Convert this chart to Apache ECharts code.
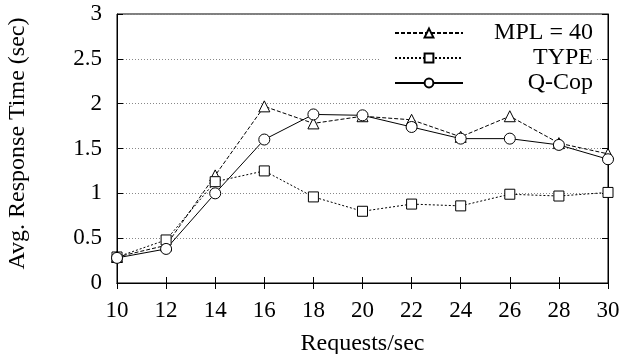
<!DOCTYPE html>
<html>
<head>
<meta charset="utf-8">
<script src="https://cdn.jsdelivr.net/npm/echarts@6/dist/echarts.min.js"></script>
<style>html,body{margin:0;padding:0;background:#fff}#c{width:625px;height:354px}</style>
</head>
<body>
<div id="c"></div>
<script>
var xValues = [10, 12, 14, 16, 18, 20, 22, 24, 26, 28, 30];
var mplValues = [0.29, 0.42, 1.20, 1.97, 1.78, 1.86, 1.82, 1.63, 1.86, 1.56, 1.44];
var typeValues = [0.29, 0.48, 1.13, 1.25, 0.96, 0.80, 0.88, 0.86, 0.99, 0.97, 1.01];
var qcopValues = [0.28, 0.38, 1.00, 1.60, 1.88, 1.87, 1.74, 1.61, 1.61, 1.54, 1.38];
var seriesNames = ['MPL = 40', 'TYPE', 'Q-Cop'];
var xTitle = 'Requests/sec';
var yTitle = 'Avg. Response Time (sec)';

var FONT = 'Liberation Serif';
function pairs(vals) { return xValues.map(function (x, i) { return [x, vals[i]]; }); }

var chart = echarts.init(document.getElementById('c'), null, {renderer: 'canvas'});
var common = {
  type: 'line',
  symbolSize: 11,
  itemStyle: {color: '#fff', borderColor: '#000', borderWidth: 1},
  emphasis: {disabled: true},
  animation: false,
  z: 3
};
chart.setOption({
  animation: false,
  backgroundColor: '#fff',
  textStyle: {fontFamily: FONT, color: '#000'},
  grid: {left: 117, right: 17, top: 14, bottom: 71, show: true, borderColor: '#000', borderWidth: 1,
    containLabel: false, outerBoundsMode: 'none'},
  legend: {
    orient: 'vertical',
    right: 28,
    top: 16,
    backgroundColor: '#fff',
    padding: [5, 4, 4, 13],
    itemWidth: 68,
    itemHeight: 11,
    itemGap: 1,
    data: seriesNames,
    formatter: function (n) { return '{t|' + n + '}'; },
    textStyle: {
      fontFamily: FONT,
      rich: {t: {fontFamily: FONT, fontSize: 24, color: '#000', width: 125, align: 'right', lineHeight: 20}}
    }
  },
  xAxis: [{
    type: 'value', min: 10, max: 30, interval: 2,
    name: xTitle, nameLocation: 'middle', nameGap: 49,
    nameTextStyle: {fontFamily: FONT, fontSize: 24, color: '#000'},
    axisLine: {show: true, lineStyle: {color: '#000', width: 1}},
    axisTick: {show: true, inside: true, length: 6, lineStyle: {color: '#000'}},
    axisLabel: {fontFamily: FONT, fontSize: 23, color: '#000', margin: 16},
    splitLine: {show: false}
  }, {
    type: 'value', min: 10, max: 30, interval: 2, position: 'top',
    axisLine: {show: true, lineStyle: {color: '#000'}},
    axisTick: {show: true, inside: true, length: 6, lineStyle: {color: '#000'}},
    axisLabel: {show: false},
    splitLine: {show: false}
  }],
  yAxis: [{
    type: 'value', min: 0, max: 3, interval: 0.5,
    name: yTitle, nameLocation: 'middle', nameGap: 87, nameRotate: 90,
    nameTextStyle: {fontFamily: FONT, fontSize: 24, color: '#000', padding: [0, 0, 0, 10]},
    axisLine: {show: true, lineStyle: {color: '#000'}},
    axisTick: {show: true, inside: true, length: 6, lineStyle: {color: '#000'}},
    axisLabel: {fontFamily: FONT, fontSize: 23, color: '#000', margin: 15},
    splitLine: {show: true, lineStyle: {color: '#888', type: [1, 2], width: 1}}
  }, {
    type: 'value', min: 0, max: 3, interval: 0.5, position: 'right',
    axisLine: {show: true, lineStyle: {color: '#000'}},
    axisTick: {show: true, inside: true, length: 6, lineStyle: {color: '#000'}},
    axisLabel: {show: false},
    splitLine: {show: false}
  }],
  series: [
    Object.assign({}, common, {name: seriesNames[0], symbol: 'triangle', data: pairs(mplValues),
      lineStyle: {color: '#000', width: 1, type: [4, 2]}}),
    Object.assign({}, common, {name: seriesNames[1], symbol: 'rect', symbolSize: 10, data: pairs(typeValues),
      lineStyle: {color: '#000', width: 1, type: [2, 2]}}),
    Object.assign({}, common, {name: seriesNames[2], symbol: 'circle', data: pairs(qcopValues),
      lineStyle: {color: '#000', width: 1, type: 'solid'}})
  ]
});
</script>
</body>
</html>
